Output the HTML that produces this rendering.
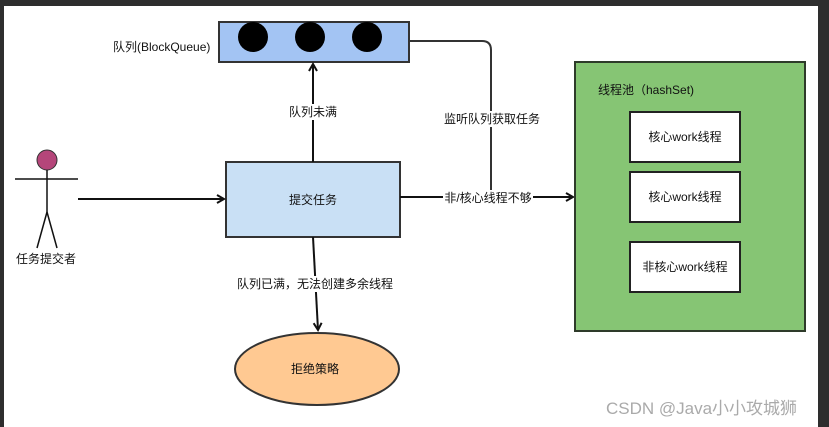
<!DOCTYPE html>
<html><head><meta charset="utf-8"><style>
body{margin:0;width:829px;height:427px;overflow:hidden;background:#fff;}
svg{display:block}
text{font-family:"Liberation Sans","Noto Sans CJK SC",sans-serif;font-size:12px;fill:#111}
</style></head><body>
<svg width="829" height="427" viewBox="0 0 829 427">
<defs><marker id="a" markerWidth="10" markerHeight="10" refX="8" refY="5" orient="auto" markerUnits="userSpaceOnUse"><path d="M1,1 L8,5 L1,9" fill="none" stroke="#111" stroke-width="2"/></marker></defs>
<rect x="0" y="0" width="829" height="6" fill="#2e2e2e"/>
<rect x="0" y="0" width="4" height="427" fill="#2e2e2e"/>
<rect x="818" y="0" width="11" height="427" fill="#2e2e2e"/>
<!-- queue -->
<rect x="219" y="22" width="190" height="40" fill="#a3c4f3" stroke="#333" stroke-width="2"/>
<circle cx="253" cy="37" r="15" fill="#000"/><circle cx="310" cy="37" r="15" fill="#000"/><circle cx="367" cy="37" r="15" fill="#000"/>
<text x="113" y="51">队列(BlockQueue)</text>
<!-- submit box -->
<rect x="226" y="162" width="174" height="75" fill="#c9e0f5" stroke="#333" stroke-width="2"/>
<text x="313" y="204" text-anchor="middle">提交任务</text>
<line x1="313" y1="162" x2="313" y2="64" stroke="#111" stroke-width="2" marker-end="url(#a)"/>
<rect x="286" y="104" width="54" height="16" fill="#fff"/>
<text x="313" y="116" text-anchor="middle">队列未满</text>
<!-- listen line -->
<path d="M409,41 H482 Q491,41 491,50 V197" fill="none" stroke="#333" stroke-width="2"/>
<line x1="400" y1="197" x2="573" y2="197" stroke="#111" stroke-width="2" marker-end="url(#a)"/>
<rect x="443" y="111" width="100" height="16" fill="#fff"/>
<text x="492" y="123" text-anchor="middle">监听队列获取任务</text>
<rect x="443" y="190" width="90" height="16" fill="#fff"/>
<text x="488" y="202" text-anchor="middle">非/核心线程不够</text>
<!-- pool -->
<rect x="575" y="62" width="230" height="269" fill="#86c574" stroke="#2e3b2a" stroke-width="2"/>
<text x="598" y="94">线程池（hashSet)</text>
<rect x="630" y="112" width="110" height="50" fill="#fff" stroke="#222" stroke-width="2"/>
<text x="685" y="141" text-anchor="middle">核心work线程</text>
<rect x="630" y="172" width="110" height="50" fill="#fff" stroke="#222" stroke-width="2"/>
<text x="685" y="201" text-anchor="middle">核心work线程</text>
<rect x="630" y="242" width="110" height="50" fill="#fff" stroke="#222" stroke-width="2"/>
<text x="685" y="271" text-anchor="middle">非核心work线程</text>
<!-- actor -->
<circle cx="47" cy="160" r="10" fill="#b5467a" stroke="#333"/>
<line x1="47" y1="170" x2="47" y2="212" stroke="#111" stroke-width="1.5"/>
<line x1="15" y1="179" x2="78" y2="179" stroke="#111" stroke-width="1.5"/>
<line x1="47" y1="212" x2="37" y2="248" stroke="#111" stroke-width="1.5"/>
<line x1="47" y1="212" x2="57" y2="248" stroke="#111" stroke-width="1.5"/>
<text x="46" y="263" text-anchor="middle">任务提交者</text>
<line x1="78" y1="199" x2="224" y2="199" stroke="#111" stroke-width="2" marker-end="url(#a)"/>
<!-- reject -->
<line x1="313" y1="237" x2="318" y2="330" stroke="#111" stroke-width="2" marker-end="url(#a)"/>
<rect x="236" y="276" width="160" height="16" fill="#fff"/>
<text x="315" y="288" text-anchor="middle">队列已满，无法创建多余线程</text>
<ellipse cx="317" cy="369" rx="82" ry="36" fill="#ffc992" stroke="#333" stroke-width="2"/>
<text x="315" y="373" text-anchor="middle">拒绝策略</text>
<text x="606" y="414" style="font-size:17px;fill:#aaa">CSDN @Java小小攻城狮</text>
</svg>
</body></html>
